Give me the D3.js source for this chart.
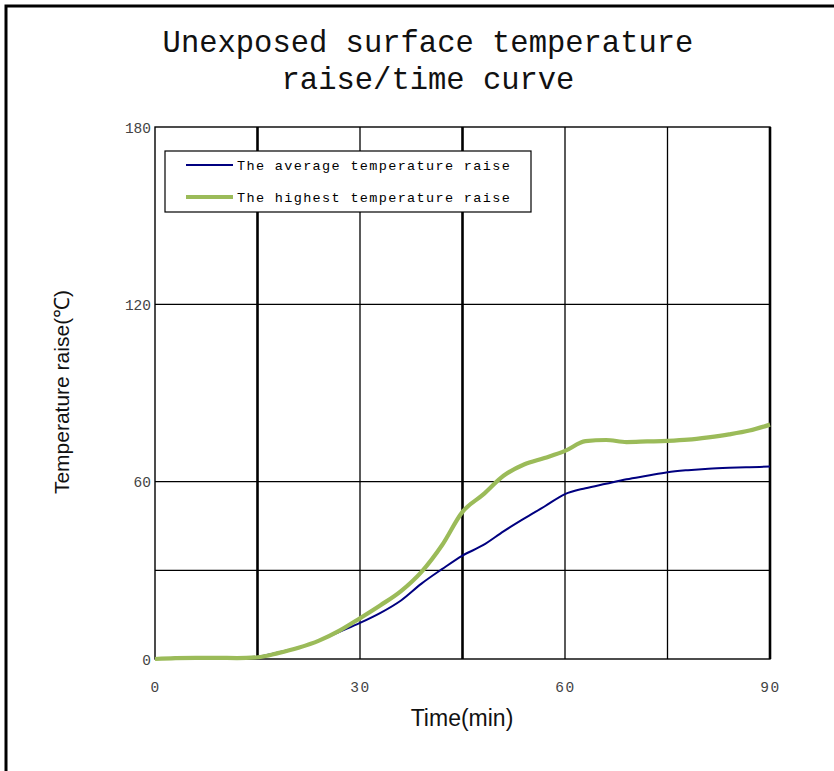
<!DOCTYPE html>
<html>
<head>
<meta charset="utf-8">
<script src="https://cdn.jsdelivr.net/npm/d3@7"></script>
<style>
  body { margin: 0; background: #fff; }
  svg { display: block; }
</style>
</head>
<body>
<div id="chart"></div>
<script>
// data
var titleLines = ["Unexposed surface temperature", "raise/time curve"];
var seriesNames = ["The average temperature raise", "The highest temperature raise"];
var times = [0, 3, 6, 9, 12, 15, 18, 21, 24, 27, 30, 33, 36, 39, 42, 45, 48, 51, 54, 57, 60, 63, 66, 69, 72, 75, 78, 81, 84, 87, 90];
var avgRaise = [0.1, 0.4, 0.6, 0.5, 0.5, 0.8, 2.2, 3.9, 6.2, 9.2, 12.2, 15.6, 19.8, 25.5, 30.4, 35.0, 38.5, 43.2, 47.5, 51.6, 55.8, 57.8, 59.3, 60.8, 62.0, 63.2, 63.9, 64.4, 64.7, 64.9, 65.1];
var maxRaise = [0, 0.3, 0.4, 0.4, 0.3, 0.6, 2.0, 3.8, 6.2, 9.6, 13.8, 18.2, 23.0, 29.5, 38.5, 49.8, 55.6, 62.0, 65.8, 68.0, 70.4, 73.7, 74.1, 73.4, 73.6, 73.8, 74.2, 75.0, 76.0, 77.3, 79.3];
var xTicks = [0, 30, 60, 90];
var yTicks = [0, 60, 120, 180];
var xGrid = [15, 30, 45, 60, 75];
var yGrid = [30, 60, 120];

const width = 834;
const height = 771;
const plot = { left: 155, right: 770, top: 127, bottom: 659 };
const boldLines = [15, 45];
const mono = "'Liberation Mono', 'DejaVu Sans Mono', monospace";
const sans = "'Liberation Sans', Arial, sans-serif";

var xScale = d3.scaleLinear().domain([0, 90]).range([plot.left, plot.right]);
var yScale = d3.scaleLinear().domain([0, 180]).range([plot.bottom, plot.top]);

var svg = d3.select("#chart").append("svg")
  .attr("width", width)
  .attr("height", height);

// outer frame (runs off the right and bottom edges)
svg.append("rect")
  .attr("x", 6).attr("y", 6)
  .attr("width", width + 20).attr("height", height + 20)
  .attr("fill", "none").attr("stroke", "#000").attr("stroke-width", 3);

// title
svg.append("g").selectAll("text")
  .data(titleLines)
  .enter().append("text")
  .attr("x", 428)
  .attr("y", function(d, i) { return 52 + i * 37; })
  .attr("text-anchor", "middle")
  .style("font-family", mono)
  .style("font-size", "30.5px")
  .attr("fill", "#111")
  .text(function(d) { return d; });

// grid lines
var grid = svg.append("g");
grid.selectAll("line.vx")
  .data(xGrid)
  .enter().append("line")
  .attr("x1", function(d) { return xScale(d); })
  .attr("x2", function(d) { return xScale(d); })
  .attr("y1", plot.top).attr("y2", plot.bottom)
  .attr("stroke", "#000")
  .attr("stroke-width", function(d) { return boldLines.indexOf(d) >= 0 ? 2.6 : 1.3; });

grid.selectAll("line.hy")
  .data(yGrid)
  .enter().append("line")
  .attr("x1", plot.left).attr("x2", plot.right)
  .attr("y1", function(d) { return yScale(d); })
  .attr("y2", function(d) { return yScale(d); })
  .attr("stroke", "#000").attr("stroke-width", 1.3);

// plot border
svg.append("rect")
  .attr("x", plot.left).attr("y", plot.top)
  .attr("width", plot.right - plot.left).attr("height", plot.bottom - plot.top)
  .attr("fill", "none").attr("stroke", "#000").attr("stroke-width", 1.4);
svg.append("line")
  .attr("x1", xScale(90)).attr("x2", xScale(90))
  .attr("y1", plot.top).attr("y2", plot.bottom)
  .attr("stroke", "#000").attr("stroke-width", 2.6);

// axes (labels only)
var xAxis = svg.append("g")
  .attr("transform", "translate(0," + (plot.bottom + 23) + ")")
  .call(d3.axisBottom(xScale).tickValues(xTicks).tickSize(0).tickPadding(0));
var yAxis = svg.append("g")
  .attr("transform", "translate(" + (plot.left - 4) + ",0)")
  .call(d3.axisLeft(yScale).tickValues(yTicks).tickSize(0).tickPadding(0));
[xAxis, yAxis].forEach(function(ax) {
  ax.select(".domain").remove();
  ax.selectAll("text")
    .style("font-family", mono)
    .style("font-size", "14.5px")
    .attr("fill", "#444");
});
xAxis.selectAll("text").style("letter-spacing", "1.5px");
yAxis.selectAll("text").attr("dy", "0.35em");

// axis titles
svg.append("text")
  .attr("x", 462).attr("y", 726)
  .attr("text-anchor", "middle")
  .style("font-family", sans)
  .style("font-size", "23px")
  .attr("fill", "#111")
  .text("Time(min)");

svg.append("text")
  .attr("transform", "translate(69,392) rotate(-90)")
  .attr("text-anchor", "middle")
  .style("font-family", sans)
  .style("font-size", "21px")
  .attr("fill", "#111")
  .text("Temperature raise(\u2103)");

// curves
var line = d3.line()
  .x(function(d) { return xScale(d[0]); })
  .y(function(d) { return yScale(d[1]); })
  .curve(d3.curveMonotoneX);

var avgData = times.map(function(t, i) { return [t, avgRaise[i]]; });
var maxData = times.map(function(t, i) { return [t, maxRaise[i]]; });

svg.append("path")
  .datum(avgData)
  .attr("d", line)
  .attr("fill", "none")
  .attr("stroke", "#000080")
  .attr("stroke-width", 2);

svg.append("path")
  .datum(maxData)
  .attr("d", line)
  .attr("fill", "none")
  .attr("stroke", "#9bbb59")
  .attr("stroke-width", 4.2)
  .attr("stroke-linejoin", "round");

// legend
var legend = svg.append("g");
legend.append("rect")
  .attr("x", 165).attr("y", 151)
  .attr("width", 366).attr("height", 61)
  .attr("fill", "#fff").attr("stroke", "#000").attr("stroke-width", 1.2);

var legendColors = ["#000080", "#9bbb59"];
var legendWidths = [2, 4.2];
var items = legend.selectAll("g.item")
  .data(seriesNames)
  .enter().append("g")
  .attr("transform", function(d, i) { return "translate(0," + (165 + i * 32) + ")"; });
items.append("line")
  .attr("x1", 186).attr("x2", 233)
  .attr("y1", 0).attr("y2", 0)
  .attr("stroke", function(d, i) { return legendColors[i]; })
  .attr("stroke-width", function(d, i) { return legendWidths[i]; });
items.append("text")
  .attr("x", 237).attr("y", 5)
  .style("font-family", mono)
  .style("font-size", "13.5px")
  .style("letter-spacing", "1.35px")
  .attr("fill", "#000")
  .text(function(d) { return d; });
</script>
</body>
</html>
